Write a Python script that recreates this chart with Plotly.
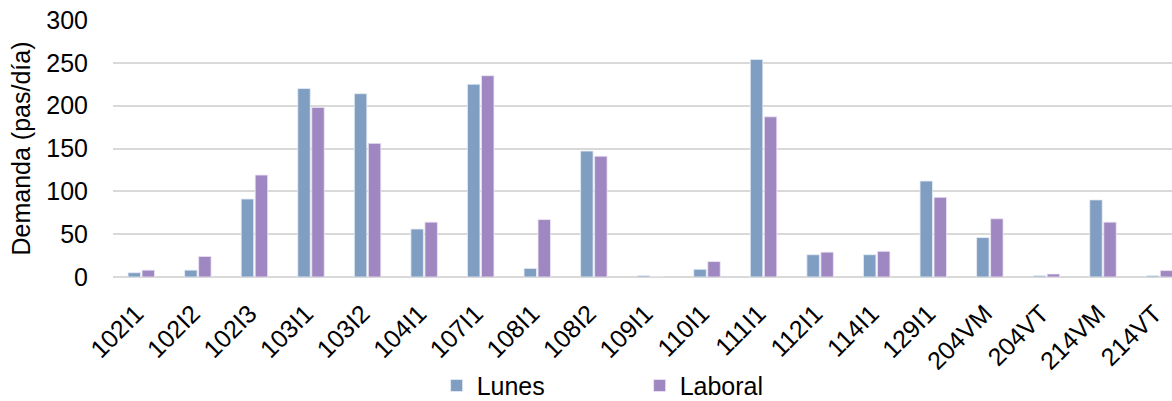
import plotly.graph_objects as go

categories = ["102I1", "102I2", "102I3", "103I1", "103I2", "104I1", "107I1", "108I1", "108I2",
              "109I1", "110I1", "111I1", "112I1", "114I1", "129I1", "204VM", "204VT", "214VM", "214VT"]
lunes = [5, 8, 91, 220, 214, 56, 225, 10, 147, 1.5, 9, 254, 26, 26, 112, 46, 1.5, 90, 1.5]
laboral = [8, 24, 119, 198, 156, 64, 235, 67, 141, 0, 18, 187, 29, 30, 93, 68, 3.5, 64, 7.5]
y_ticks = [0, 50, 100, 150, 200, 250, 300]

FONT = "Arial, Liberation Sans, sans-serif"
FS = 25

fig = go.Figure()
fig.add_trace(go.Bar(x=categories, y=lunes, name="Lunes",
                     marker=dict(color="#809EC2", line=dict(color="#E6ECF4", width=0.8))))
fig.add_trace(go.Bar(x=categories, y=laboral, name="Laboral",
                     marker=dict(color="#9F87C1", line=dict(color="#ECE6F4", width=0.8))))

fig.update_layout(
    width=1172, height=401,
    margin=dict(l=113, r=0, t=20, b=124, autoexpand=False),
    paper_bgcolor="white", plot_bgcolor="white",
    font=dict(family=FONT, size=FS, color="#000000"),
    bargap=0.505, bargroupgap=0.11,
    showlegend=True,
    legend=dict(orientation="h", x=0.3056, xanchor="left", yref="container", y=0.038,
                yanchor="middle",
                entrywidth=158, entrywidthmode="pixels",
                font=dict(family=FONT, size=25, color="#000000")),
    xaxis=dict(tickangle=-45, showgrid=False, showline=False, ticks="", automargin=False,
               range=[-0.5, 18.22], ticklabelshift=-5, ticklabelstandoff=16,
               tickfont=dict(family=FONT, size=FS, color="#000000")),
    yaxis=dict(range=[0, 300], tickvals=y_ticks, showgrid=True, gridcolor="#D9D9D9", gridwidth=2,
               zeroline=True, zerolinecolor="#D9D9D9", zerolinewidth=2, showline=False,
               ticks="", ticklabelstandoff=24, automargin=False,
               title=dict(text="Demanda (pas/día)", font=dict(family=FONT, size=FS, color="#000000"),
                          standoff=8),
               tickfont=dict(family=FONT, size=FS, color="#000000")),
)

fig.write_html("out.html", config={"displayModeBar": False},
               post_script="document.body.style.margin='0px';document.body.style.overflow='hidden';")
